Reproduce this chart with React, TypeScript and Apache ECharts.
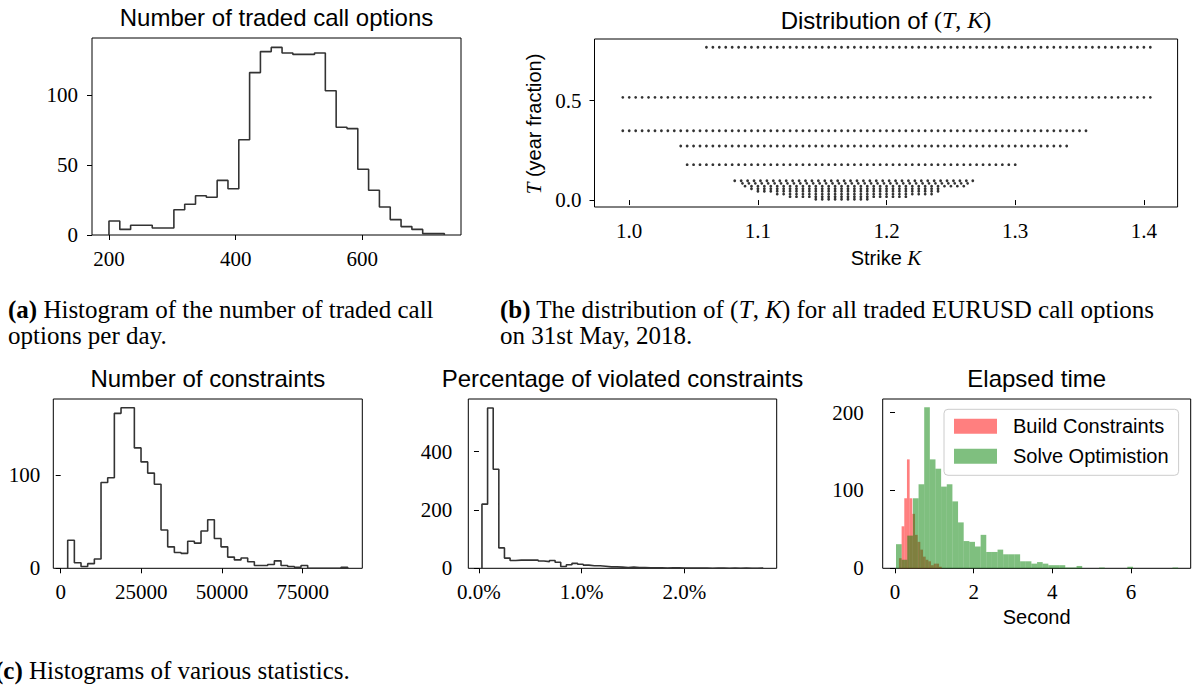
import React, { useEffect, useRef } from 'react';
import * as echarts from 'echarts';

const SERIF = "'Liberation Serif', 'Times New Roman', serif";
const SANS = "'Liberation Sans', Arial, sans-serif";

// (a) Number of traded call options per day
const tradedStart = 200;
const tradedWidth = 17.08;
const tradedCounts = [10, 4, 7, 7, 5, 5, 18, 22, 28, 27, 39, 33, 68, 116, 131, 134, 130, 129, 129, 130, 103, 77, 76, 47, 32, 20, 11, 6, 4, 1, 1];

// (b) Distribution of (T, K): each maturity row with its strike range (strike grid step)
const maturities = [0.769, 0.517, 0.349, 0.272, 0.178, 0.097, 0.084, 0.070, 0.057, 0.044, 0.030, 0.017, 0.004];
const strikeLow = [1.06, 0.995, 0.995, 1.04, 1.045, 1.082, 1.088, 1.09, 1.095, 1.10, 1.115, 1.125, 1.145];
const strikeHigh = [1.405, 1.405, 1.355, 1.34, 1.30, 1.265, 1.265, 1.262, 1.24, 1.24, 1.235, 1.215, 1.185];
const strikeStep = 0.005;

// (c) Number of constraints
const consStart = 2170;
const consWidth = 2066;
const consCounts = [30, 6, 2, 5, 10, 92, 97, 166, 172, 172, 129, 114, 102, 90, 41, 23, 17, 16, 29, 27, 40, 52, 32, 23, 12, 9, 11, 7, 3, 3, 4, 8, 3, 2, 1, 3, 0, 0, 0, 0, 0, 1];

// (c) Percentage of violated constraints (in %)
const violStart = 0.029;
const violWidth = 0.0548;
const violCounts = [220, 550, 340, 70, 35, 27, 28, 28, 28, 28, 25, 23, 27, 21, 6, 12, 17, 14, 11, 9, 9, 7, 5, 5, 4, 3, 4, 3, 3, 2, 2, 2, 1, 2, 2, 1, 1, 1, 1, 1, 0, 1, 1, 0, 1, 0, 1, 0, 0, 1];

// (c) Elapsed time (seconds)
const buildStart = 0.1;
const buildWidth = 0.068;
const buildCounts = [13, 54, 90, 140, 90, 70, 43, 34, 24, 15, 11, 9, 4, 6, 6, 2];
const solveStart = 0.025;
const solveWidth = 0.1435;
const solveCounts = [31, 11, 42, 90, 108, 207, 140, 128, 105, 108, 86, 59, 35, 34, 28, 43, 21, 21, 24, 18, 18, 18, 9, 9, 6, 8, 6, 4, 4, 4, 1, 1, 3, 0, 0, 0, 1, 0, 0, 0, 0, 2, 0, 0, 0, 0, 0, 0, 0, 1];

const xTicksA = [200, 400, 600];
const yTicksA = [0, 50, 100];
const xTicksB = [1.0, 1.1, 1.2, 1.3, 1.4];
const yTicksB = [0, 0.5];
const xTicksC1 = [0, 25000, 50000, 75000];
const yTicksC1 = [0, 100];
const xTicksC2 = [0, 1, 2];
const yTicksC2 = [0, 200, 400];
const xTicksC3 = [0, 2, 4, 6];
const yTicksC3 = [0, 100, 200];

function stepPoints(start: number, width: number, counts: number[]) {
  const pts: number[][] = [[start, 0]];
  counts.forEach((c, i) => {
    pts.push([start + i * width, c]);
    pts.push([start + (i + 1) * width, c]);
  });
  pts.push([start + counts.length * width, 0]);
  return pts;
}

function barData(start: number, width: number, counts: number[]) {
  return counts.map((c, i) => [start + i * width, start + (i + 1) * width, c]);
}

function scatterData() {
  const pts: number[][] = [];
  maturities.forEach((t, r) => {
    const n = Math.round((strikeHigh[r] - strikeLow[r]) / strikeStep);
    for (let j = 0; j <= n; j++) pts.push([strikeLow[r] + j * strikeStep, t]);
  });
  return pts;
}

function xAxis(gi: number, min: number, max: number, ticks: number[], fmt: (v: number) => string) {
  return {
    type: 'value', gridIndex: gi, min, max,
    axisLine: { show: false },
    splitLine: { show: false },
    axisTick: { show: true, length: 5, customValues: ticks, lineStyle: { color: '#000', width: 1 } },
    axisLabel: { customValues: ticks, formatter: fmt, fontFamily: SERIF, fontSize: 21, color: '#000', margin: 13 },
  };
}
function yAxis(gi: number, min: number, max: number, ticks: number[], fmt: (v: number) => string, margin: number) {
  return {
    type: 'value', gridIndex: gi, min, max,
    axisLine: { show: false },
    splitLine: { show: false },
    axisTick: { show: true, length: 5, customValues: ticks, lineStyle: { color: '#000', width: 1 } },
    axisLabel: { customValues: ticks, formatter: fmt, fontFamily: SERIF, fontSize: 21, color: '#000', margin },
  };
}

function rectRender(color: string) {
  return (params: any, api: any) => {
    const p0 = api.coord([api.value(0), api.value(2)]);
    const p1 = api.coord([api.value(1), 0]);
    return {
      type: 'rect',
      shape: { x: p0[0], y: p0[1], width: p1[0] - p0[0], height: p1[1] - p0[1] },
      style: { fill: color },
    };
  };
}

const stepLine = (xi: number, data: number[][]) => ({
  type: 'line', xAxisIndex: xi, yAxisIndex: xi, data, symbol: 'none', showSymbol: false,
  lineStyle: { color: '#333', width: 1.6 }, silent: true,
});

function text(x: number, y: number, str: string, fontFamily: string, fontSize: number, align = 'center') {
  return {
    type: 'text', x, y,
    style: { text: str, fontFamily, fontSize, fill: '#000', align, verticalAlign: 'middle' },
  };
}

export default function App() {
  const ref = useRef<HTMLDivElement>(null);
  useEffect(() => {
    if (!ref.current) return;
    const chart = echarts.init(ref.current, null, { renderer: 'svg' });
    const plain = (v: number) => String(v);
    const one = (v: number) => v.toFixed(1);
    const pct = (v: number) => v.toFixed(1) + '%';
    const gridStyle = { show: true, borderColor: '#000', borderWidth: 1, backgroundColor: 'transparent' };
    const richMath = {
      i: { fontFamily: SERIF, fontStyle: 'italic', fontSize: 24 },
      m: { fontFamily: SERIF, fontSize: 24 },
    };
    const option: any = {
      animation: false,
      backgroundColor: '#fff',
      grid: [
        { left: 92, top: 38, width: 369, height: 197, ...gridStyle },
        { left: 594.5, top: 39, width: 583.1, height: 168, ...gridStyle },
        { left: 53.3, top: 399, width: 309, height: 169.3, ...gridStyle },
        { left: 468.3, top: 399, width: 308.4, height: 169.3, ...gridStyle },
        { left: 882.7, top: 399, width: 308, height: 169.3, ...gridStyle },
      ],
      xAxis: [
        xAxis(0, 173.2, 755.8, xTicksA, plain),
        xAxis(1, 0.973, 1.4262, xTicksB, one),
        xAxis(2, -2290, 93470, xTicksC1, plain),
        xAxis(3, -0.104, 2.9, xTicksC2, pct),
        xAxis(4, -0.313, 7.52, xTicksC3, plain),
      ],
      yAxis: [
        yAxis(0, 0, 140.7, yTicksA, plain, 14),
        yAxis(1, -0.035, 0.8107, yTicksB, one, 13),
        yAxis(2, 0, 181.4, yTicksC1, plain, 13),
        yAxis(3, 0, 580.8, yTicksC2, plain, 16),
        yAxis(4, 0, 217.6, yTicksC3, plain, 19),
      ],
      legend: {
        data: ['Build Constraints', 'Solve Optimistion'],
        left: 944, top: 409.3, orient: 'vertical', icon: 'rect', selectedMode: false,
        itemWidth: 43, itemHeight: 15, itemGap: 10,
        padding: [7, 10, 9, 10],
        backgroundColor: 'rgba(255,255,255,0.8)', borderColor: '#cccccc', borderWidth: 1, borderRadius: 4,
        textStyle: { fontFamily: SANS, fontSize: 20, color: '#000', padding: [0, 0, 0, 11] },
      },
      series: [
        stepLine(0, stepPoints(tradedStart, tradedWidth, tradedCounts)),
        {
          type: 'scatter', xAxisIndex: 1, yAxisIndex: 1, data: scatterData(),
          symbolSize: 2.8, itemStyle: { color: '#000' }, silent: true,
        },
        stepLine(2, stepPoints(consStart, consWidth, consCounts)),
        stepLine(3, stepPoints(violStart, violWidth, violCounts)),
        {
          type: 'custom', name: 'Build Constraints', xAxisIndex: 4, yAxisIndex: 4,
          data: barData(buildStart, buildWidth, buildCounts), encode: { x: [0, 1], y: 2 },
          itemStyle: { color: 'rgba(255,0,0,0.5)' }, renderItem: rectRender('rgba(255,0,0,0.5)'), silent: true,
        },
        {
          type: 'custom', name: 'Solve Optimistion', xAxisIndex: 4, yAxisIndex: 4,
          data: barData(solveStart, solveWidth, solveCounts), encode: { x: [0, 1], y: 2 },
          itemStyle: { color: 'rgba(0,128,0,0.5)' }, renderItem: rectRender('rgba(0,128,0,0.5)'), silent: true,
        },
      ],
      graphic: [
        text(276.5, 17, 'Number of traded call options', SANS, 24),
        {
          type: 'text', x: 886, y: 20,
          style: {
            text: 'Distribution of {m|(}{i|T}{m|, }{i|K}{m|)}', rich: richMath,
            fontFamily: SANS, fontSize: 24, fill: '#000', align: 'center', verticalAlign: 'middle',
          },
        },
        {
          type: 'text', x: 886, y: 258,
          style: {
            text: 'Strike {i|K}', rich: { i: { fontFamily: SERIF, fontStyle: 'italic', fontSize: 21 } },
            fontFamily: SANS, fontSize: 20, fill: '#000', align: 'center', verticalAlign: 'middle',
          },
        },
        {
          type: 'text', x: 534, y: 124, rotation: Math.PI / 2,
          style: {
            text: '{i|T} (year fraction)', rich: { i: { fontFamily: SERIF, fontStyle: 'italic', fontSize: 21 } },
            fontFamily: SANS, fontSize: 20, fill: '#000', align: 'center', verticalAlign: 'middle',
          },
        },
        text(207.8, 378, 'Number of constraints', SANS, 24),
        text(622.5, 378, 'Percentage of violated constraints', SANS, 24),
        text(1036.7, 378, 'Elapsed time', SANS, 24),
        text(1036.7, 617, 'Second', SANS, 20),
        {
          type: 'text', x: 8, y: 309,
          style: {
            text: '{b|(a)} Histogram of the number of traded call', rich: { b: { fontFamily: SERIF, fontWeight: 'bold', fontSize: 25 } },
            fontFamily: SERIF, fontSize: 25, fill: '#000', align: 'left', verticalAlign: 'middle',
          },
        },
        text(8, 335, 'options per day.', SERIF, 25, 'left'),
        {
          type: 'text', x: 500, y: 309,
          style: {
            text: '{b|(b)} The distribution of ({i|T}, {i|K}) for all traded EURUSD call options',
            rich: { b: { fontFamily: SERIF, fontWeight: 'bold', fontSize: 25 }, i: { fontFamily: SERIF, fontStyle: 'italic', fontSize: 25 } },
            fontFamily: SERIF, fontSize: 25, fill: '#000', align: 'left', verticalAlign: 'middle',
          },
        },
        text(500, 335, 'on 31st May, 2018.', SERIF, 25, 'left'),
        {
          type: 'text', x: -5, y: 670,
          style: {
            text: '{b|(c)} Histograms of various statistics.', rich: { b: { fontFamily: SERIF, fontWeight: 'bold', fontSize: 25 } },
            fontFamily: SERIF, fontSize: 25, fill: '#000', align: 'left', verticalAlign: 'middle',
          },
        },
      ],
    };
    chart.setOption(option);
    return () => chart.dispose();
  }, []);
  return <div ref={ref} style={{ position: 'absolute', left: 0, top: 0, width: 1195, height: 688, background: '#fff' }} />;
}
